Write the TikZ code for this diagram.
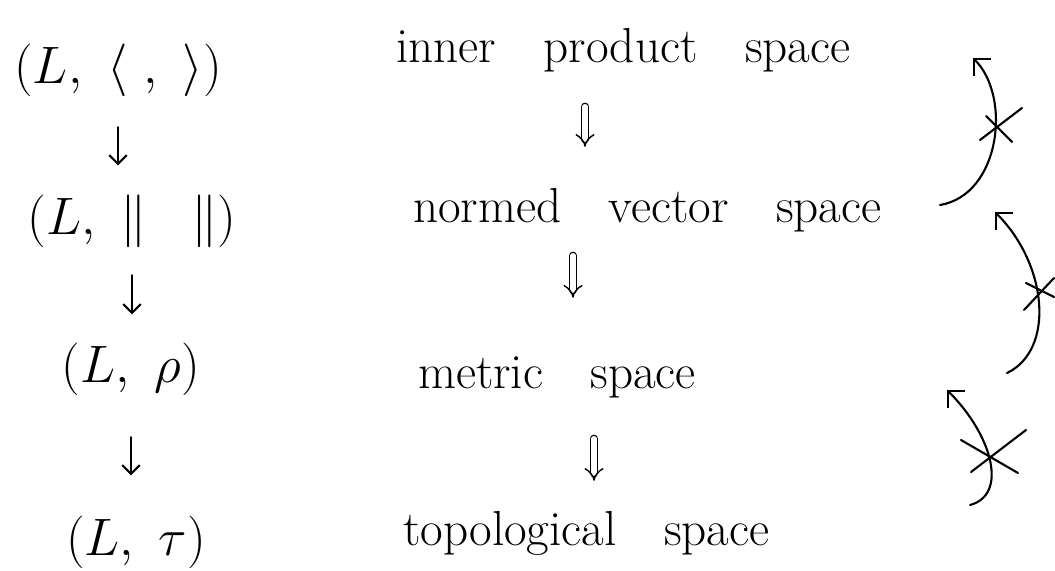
\RequirePackage{fix-cm}
\documentclass[tikz,border=0pt]{standalone}
\usetikzlibrary{arrows.meta,calc}
\newcommand\wideword{\spaceskip=0.95cm\relax}
\begin{document}
\begin{tikzpicture}[x=0.02cm,y=-0.02cm, line width=1.2pt, line cap=round, line join=round,
  lab/.style={inner sep=0pt, font=\fontsize{28}{34}\selectfont\wideword},
  mth/.style={inner sep=0pt, font=\fontsize{30}{36}\selectfont},
  down/.style={-{Straight Barb[length=5pt,width=10pt]}},
  imp/.style={double, double distance=3pt, line width=0.8pt, -{Implies}},
  ret/.style={-{Straight Barb[length=7pt,width=14pt]}},
  cross/.style={line width=1.2pt}]
\useasboundingbox (0,0) rectangle (1055,571);
% left column
\node[mth, anchor=base] (a1) at (118,84) {$(L,\ \langle\ ,\ \rangle)$};
\node[mth, anchor=base] (a2) at (132,234) {$(L,\ \|\;\;\;\|)$};
\node[mth, anchor=base] (a3) at (131,382) {$(L,\ \rho)$};
\node[mth, anchor=base] (a4) at (136,555) {$(L,\ \tau)$};
% middle column
\node[lab, anchor=base west] (m1) at (395,63) {inner product space};
\node[lab, anchor=base west] (m2) at (412,222) {normed vector space};
\node[lab, anchor=base west] (m3) at (417,388) {metric space};
\node[lab, anchor=base west] (m4) at (402,545) {topological space};
\coordinate (dx1) at (585,0);
\coordinate (dx2) at (573,0);
\coordinate (dx3) at (594,0);
% left arrows
\draw[down, shorten <=0.58cm, shorten >=0.56cm] (a1.south) -- (a1.south |- a2.north);
\draw[down, shorten <=0.54cm, shorten >=0.54cm] (a2.south) -- (a2.south |- a3.north);
\draw[down, shorten <=0.82cm, shorten >=0.78cm] (a3.south) -- (a3.south |- a4.north);
% implications
\draw[imp, shorten <=0.66cm, shorten >=0.8cm] (m1.south -| dx1) -- (m2.north -| dx1);
\draw[imp, shorten <=0.46cm, shorten >=1.15cm] (m2.south -| dx2) -- (m3.north -| dx2);
\draw[imp, shorten <=0.8cm, shorten >=0.58cm] (m3.south -| dx3) -- (m4.north -| dx3);
% converse arcs
\coordinate (t1) at (940,205); \coordinate (h1) at (973,58);
\coordinate (t2) at (1007,373); \coordinate (h2) at (995,212);
\coordinate (t3) at (970,505); \coordinate (h3) at (947,390);
\draw[ret] (t1) .. controls (1000,195) and (1012,97) .. (h1);
\draw[ret] (t2) .. controls (1055,350) and (1048,265) .. (h2);
\draw[ret] (t3) .. controls (1008,495) and (993,436) .. (h3);
% crosses
\draw[cross] (986,116) -- (1012,142) (980,140) -- (1022,108);
\draw[cross] (1026,283) -- (1054,297) (1054,278) -- (1024,310);
\draw[cross] (961,440) -- (1018,473) (971,472) -- (1026,430);
\end{tikzpicture}
\end{document}
